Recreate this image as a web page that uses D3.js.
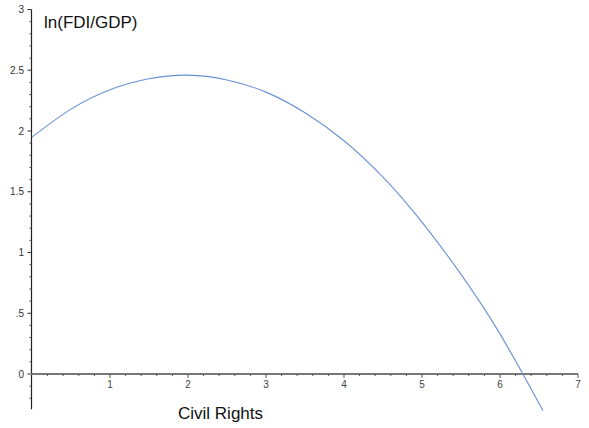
<!DOCTYPE html>
<html>
<head>
<meta charset="utf-8">
<script src="https://cdn.jsdelivr.net/npm/d3@7"></script>
<style>
  body { margin: 0; background: #fff; }
  svg { display: block; font-family: "Liberation Sans", Arial, sans-serif; }
</style>
</head>
<body>
<svg id="chart" width="589" height="428"></svg>
<script>
// Values
const civilRights = [0, 0.5, 1, 1.5, 2, 2.5, 3, 3.5, 4, 4.5, 5, 5.5, 6, 6.55];
const lnFdiGdp = [1.95, 2.18, 2.34, 2.43, 2.46, 2.42, 2.32, 2.15, 1.92, 1.62, 1.25, 0.82, 0.33, -0.30];
const xTicks = [1, 2, 3, 4, 5, 6, 7];
const yTicks = [0, 0.5, 1, 1.5, 2, 2.5, 3];
const yTickLabels = ["0", ".5", "1", "1.5", "2", "2.5", "3"];

const svg = d3.select("#chart");

const x = d3.scaleLinear().domain([0, 7]).range([32, 578]);
const y = d3.scaleLinear().domain([0, 3]).range([374, 9.5]);

// y axis line
svg.append("line")
  .attr("x1", 31.5).attr("x2", 31.5)
  .attr("y1", y(3)).attr("y2", y(-0.29))
  .attr("stroke", "#222").attr("stroke-width", 1.2);

// y minor ticks (every 0.1)
const yMinor = d3.range(-2, 31).map(d => d / 10).filter(d => Math.round(d * 10) % 5 !== 0);
svg.selectAll("line.yminor")
  .data(yMinor)
  .enter().append("line")
  .attr("class", "yminor")
  .attr("x1", 29.5).attr("x2", 31.5)
  .attr("y1", d => y(d)).attr("y2", d => y(d))
  .attr("stroke", "#444").attr("stroke-width", 1);

// y major ticks + labels
svg.selectAll("line.ymajor")
  .data(yTicks)
  .enter().append("line")
  .attr("class", "ymajor")
  .attr("x1", 27.5).attr("x2", 31.5)
  .attr("y1", d => y(d)).attr("y2", d => y(d))
  .attr("stroke", "#333").attr("stroke-width", 1);

svg.selectAll("text.ylab")
  .data(yTicks)
  .enter().append("text")
  .attr("class", "ylab")
  .attr("x", 24)
  .attr("y", d => y(d) + 3.5)
  .attr("text-anchor", "end")
  .attr("font-size", 10)
  .attr("fill", "#333")
  .text((d, i) => yTickLabels[i]);

// x axis line
svg.append("line")
  .attr("x1", x(0) - 1).attr("x2", x(7))
  .attr("y1", y(0)).attr("y2", y(0))
  .attr("stroke", "#777").attr("stroke-width", 2);

// x minor ticks (every 0.2)
const xMinor = d3.range(1, 35).map(d => d / 5).filter(d => Math.abs(d - Math.round(d)) > 1e-6);
svg.selectAll("line.xminor")
  .data(xMinor)
  .enter().append("line")
  .attr("class", "xminor")
  .attr("x1", d => x(d)).attr("x2", d => x(d))
  .attr("y1", y(0)).attr("y2", y(0) + 2)
  .attr("stroke", "#555").attr("stroke-width", 1);

svg.selectAll("line.xmajor")
  .data(xTicks)
  .enter().append("line")
  .attr("class", "xmajor")
  .attr("x1", d => x(d)).attr("x2", d => x(d))
  .attr("y1", y(0)).attr("y2", y(0) + 4)
  .attr("stroke", "#555").attr("stroke-width", 1);

svg.selectAll("text.xlab")
  .data(xTicks)
  .enter().append("text")
  .attr("class", "xlab")
  .attr("x", d => x(d))
  .attr("y", y(0) + 14)
  .attr("text-anchor", "middle")
  .attr("font-size", 10)
  .attr("fill", "#444")
  .text(d => d);

// curve
const line = d3.line()
  .x((d, i) => x(civilRights[i]))
  .y(d => y(d))
  .curve(d3.curveNatural);

svg.append("path")
  .datum(lnFdiGdp)
  .attr("fill", "none")
  .attr("stroke", "#6a90d4")
  .attr("stroke-width", 1.1)
  .attr("d", line);

// axis titles
svg.append("text")
  .attr("x", 44).attr("y", 28)
  .attr("font-size", 17)
  .attr("fill", "#111")
  .text("ln(FDI/GDP)");

svg.append("text")
  .attr("x", 178).attr("y", 419)
  .attr("font-size", 17)
  .attr("fill", "#111")
  .text("Civil Rights");
</script>
</body>
</html>
